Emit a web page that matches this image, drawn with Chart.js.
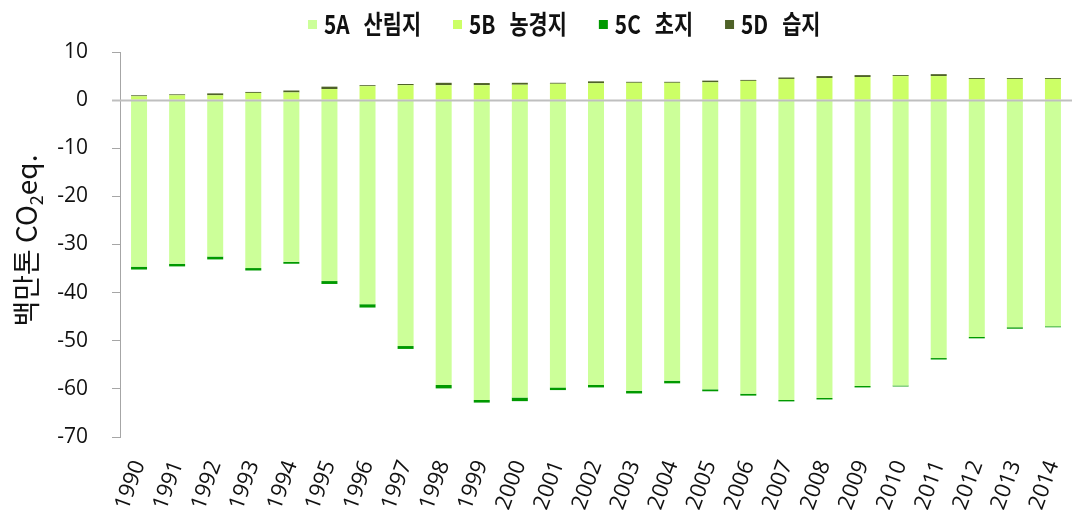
<!DOCTYPE html>
<html>
<head>
<meta charset="utf-8">
<script src="https://cdn.jsdelivr.net/npm/chart.js@4/dist/chart.umd.min.js"></script>
<style>
  html, body { margin: 0; padding: 0; background: #fff; overflow: hidden; }
  #wrap { width: 1090px; height: 522px; }
</style>
</head>
<body>
<div id="wrap"><canvas id="lulucfChart" width="1090" height="522"></canvas></div>
<script>
// 연도
const years = ['1990','1991','1992','1993','1994','1995','1996','1997','1998','1999','2000','2001','2002',
               '2003','2004','2005','2006','2007','2008','2009','2010','2011','2012','2013','2014'];
// 5A 산림지
const forestLand = [-34.6,-34.0,-32.5,-34.9,-33.6,-37.6,-42.4,-51.1,-59.2,-62.3,-61.8,-59.7,-59.2,
                    -60.4,-58.3,-60.1,-61.0,-62.3,-61.9,-59.4,-59.3,-53.6,-49.2,-47.2,-47.0];
// 5B 농경지
const cropland = [0.8,1.0,1.0,1.5,1.6,2.3,2.9,3.1,3.1,3.1,3.2,3.4,3.5,
                  3.6,3.6,3.7,4.0,4.4,4.6,4.8,5.0,5.0,4.4,4.4,4.4];
// 5C 초지
const grassland = [-0.6,-0.55,-0.6,-0.5,-0.4,-0.6,-0.7,-0.6,-0.7,-0.55,-0.75,-0.55,-0.5,
                   -0.55,-0.55,-0.4,-0.4,-0.3,-0.3,-0.3,-0.2,-0.3,-0.3,-0.3,-0.2];
// 5D 습지
const wetlands = [0.2,0.2,0.4,0.2,0.4,0.5,0.2,0.25,0.5,0.45,0.4,0.2,0.4,
                  0.2,0.2,0.35,0.2,0.3,0.4,0.4,0.2,0.4,0.2,0.2,0.2];
// y축 눈금
const yTicks = [10, 0, -10, -20, -30, -40, -50, -60, -70];

const seriesCodes = ['5A', '5B', '5C', '5D'];
const seriesNames = ['산림지', '농경지', '초지', '습지'];
const seriesColors = ['#ccff99', '#ccff66', '#009900', '#4f6228'];

const numFont = '"Open Sans", "Noto Sans CJK KR", sans-serif';

let ctx = document.getElementById('lulucfChart').getContext('2d');
let chart = new Chart(ctx, {
    type: 'bar',
    data: {
        labels: years,
        datasets: [forestLand, cropland, grassland, wetlands].map((d, i) => ({
            label: seriesCodes[i] + '  ' + seriesNames[i],
            code: seriesCodes[i],
            name: seriesNames[i],
            data: d,
            backgroundColor: seriesColors[i],
            borderWidth: 0,
            barPercentage: 0.42,
            categoryPercentage: 1.0
        }))
    },
    options: {
        responsive: false,
        animation: false,
        layout: { padding: { top: 52, right: 12, left: 0, bottom: 0 } },
        plugins: {
            legend: { display: false },
            tooltip: { enabled: false }
        },
        scales: {
            x: {
                stacked: true,
                grid: { display: false },
                border: { display: false },
                ticks: {
                    autoSkip: false,
                    minRotation: 70,
                    maxRotation: 70,
                    padding: 12,
                    color: '#111',
                    font: { family: numFont, size: 22 }
                },
                afterFit(scale) { scale.height = 85; }
            },
            y: {
                stacked: true,
                min: -70,
                max: 10,
                afterBuildTicks(scale) { scale.ticks = yTicks.map(v => ({ value: v })); },
                grid: {
                    drawOnChartArea: false,
                    drawTicks: true,
                    tickLength: 8,
                    color: '#a6a6a6'
                },
                border: { display: true, color: '#a6a6a6', width: 1 },
                ticks: {
                    padding: 24,
                    color: '#111',
                    font: { family: numFont, size: 21 }
                },
                afterFit(scale) { scale.width = 120; }
            }
        }
    },
    plugins: [
        {
            id: 'zeroLine',
            afterDatasetsDraw(chart) {
                const {ctx, chartArea, scales: {y}} = chart;
                const y0 = Math.round(y.getPixelForValue(0)) + 0.5;
                ctx.save();
                ctx.strokeStyle = '#bfbfbf';
                ctx.lineWidth = 2;
                ctx.beginPath();
                ctx.moveTo(chartArea.left - 8, y0);
                ctx.lineTo(chartArea.right, y0);
                ctx.stroke();
                ctx.restore();
            }
        },
        {
            id: 'yTitle',
            afterDraw(chart) {
                const {ctx, chartArea} = chart;
                const cy = (chartArea.top + chartArea.bottom) / 2 - 4;
                const big = '28px "Noto Sans CJK KR", sans-serif';
                const small = '18px "Noto Sans CJK KR", sans-serif';
                ctx.save();
                ctx.translate(37, cy);
                ctx.rotate(-Math.PI / 2);
                ctx.fillStyle = '#111';
                ctx.textBaseline = 'alphabetic';
                const main = '백만톤 CO';
                const sub = '2';
                const tail = 'eq.';
                ctx.font = big;
                const w1 = ctx.measureText(main).width;
                const w3 = ctx.measureText(tail).width;
                ctx.font = small;
                const w2 = ctx.measureText(sub).width;
                let x = -(w1 + w2 + w3) / 2;
                ctx.font = big;
                ctx.fillText(main, x, 0);
                x += w1;
                ctx.font = small;
                ctx.fillText(sub, x, 6);
                x += w2;
                ctx.font = big;
                ctx.fillText(tail, x, 0);
                ctx.restore();
            }
        },
        {
            id: 'topLegend',
            afterDraw(chart) {
                const {ctx} = chart;
                // 세로로 길쭉한 굵은 글꼴 느낌을 내려고 가로만 줄여서 그림
                const squeeze = 0.8;
                ctx.save();
                ctx.font = 'bold 26px "Noto Sans CJK KR", sans-serif';
                ctx.textBaseline = 'middle';
                let x = 308;
                const cy = 24;
                const drawSqueezed = (text, tx) => {
                    ctx.save();
                    ctx.translate(tx, cy);
                    ctx.scale(squeeze, 1);
                    ctx.fillText(text, 0, 0);
                    ctx.restore();
                    return ctx.measureText(text).width * squeeze;
                };
                chart.data.datasets.forEach((ds) => {
                    ctx.fillStyle = ds.backgroundColor;
                    ctx.fillRect(x, cy - 4, 9, 9);
                    x += 16;
                    ctx.fillStyle = '#111';
                    x += drawSqueezed(ds.code, x) + 14;
                    x += drawSqueezed(ds.name, x) + 32;
                });
                ctx.restore();
            }
        }
    ]
});
</script>
</body>
</html>
